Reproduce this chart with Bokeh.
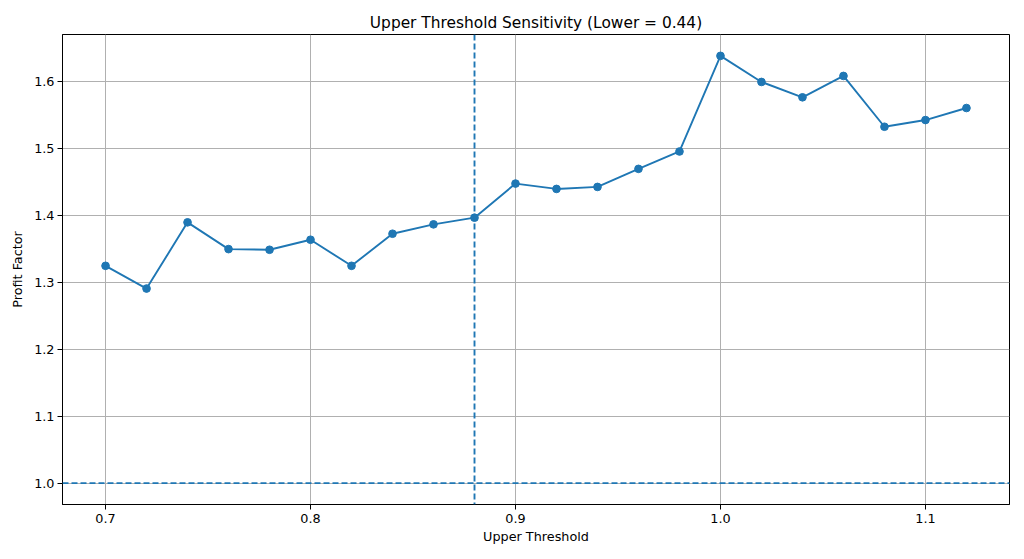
from bokeh.plotting import figure
from bokeh.models import Range1d, FixedTicker, Span, PrintfTickFormatter
from bokeh.embed import file_html
from bokeh.resources import INLINE

upper = [0.70, 0.72, 0.74, 0.76, 0.78, 0.80, 0.82, 0.84, 0.86, 0.88, 0.90,
         0.92, 0.94, 0.96, 0.98, 1.00, 1.02, 1.04, 1.06, 1.08, 1.10, 1.12]
profit = [1.325, 1.291, 1.390, 1.350, 1.349, 1.364, 1.325, 1.373, 1.387, 1.397, 1.448,
          1.440, 1.443, 1.470, 1.496, 1.639, 1.600, 1.577, 1.609, 1.533, 1.543, 1.561]
chosen_upper = 0.88
baseline = 1.0
x_ticks = [0.7, 0.8, 0.9, 1.0, 1.1]
y_ticks = [1.0, 1.1, 1.2, 1.3, 1.4, 1.5, 1.6]

BLUE = "#1f77b4"
FONT = "DejaVu Sans"

xpad = (max(upper) - min(upper)) * 0.05
ylo, yhi = min(min(profit), baseline), max(profit)
ypad = (yhi - ylo) * 0.05

p = figure(
    frame_width=947, frame_height=470,
    min_border_left=62, min_border_right=7, min_border_top=34, min_border_bottom=47,
    x_range=Range1d(min(upper) - xpad, max(upper) + xpad),
    y_range=Range1d(ylo - ypad, yhi + ypad),
    output_backend="svg", toolbar_location=None,
    title="Upper Threshold Sensitivity (Lower = 0.44)",
)
p.title.align = "center"
p.title.text_font = FONT
p.title.text_font_size = "15.4px"
p.title.text_font_style = "normal"
p.title.text_color = "black"
p.title.standoff = 6

p.outline_line_color = "black"
p.outline_line_width = 1
p.outline_line_alpha = 1

for ax in (p.xaxis[0], p.yaxis[0]):
    ax.major_label_text_font = FONT
    ax.major_label_text_font_size = "12.8px"
    ax.major_label_text_color = "black"
    ax.axis_label_text_font = FONT
    ax.axis_label_text_font_size = "12.8px"
    ax.axis_label_text_font_style = "normal"
    ax.axis_label_text_color = "black"
    ax.axis_line_color = "black"
    ax.major_tick_line_color = "black"
    ax.major_tick_in = 0
    ax.major_tick_out = 5
    ax.minor_tick_line_color = None
    ax.formatter = PrintfTickFormatter(format="%.1f")

p.xaxis.ticker = FixedTicker(ticks=x_ticks)
p.yaxis.ticker = FixedTicker(ticks=y_ticks)
p.xaxis.axis_label = "Upper Threshold"
p.yaxis.axis_label = "Profit Factor"
p.xaxis.major_label_standoff = 4
p.xaxis.axis_label_standoff = 3
p.yaxis.major_label_standoff = 3
p.yaxis.axis_label_standoff = 6

p.grid.grid_line_color = "#b0b0b0"
p.grid.grid_line_width = 1

p.line(upper, profit, line_color=BLUE, line_width=1.9)
p.scatter(upper, profit, size=7.7, fill_color=BLUE, line_color=BLUE)

p.add_layout(Span(location=chosen_upper, dimension="height", line_color=BLUE,
                  line_width=1.9, line_dash="6 3"))
p.add_layout(Span(location=baseline, dimension="width", line_color=BLUE,
                  line_width=1.9, line_dash="6 3"))

open("out.html", "w").write(file_html(p, INLINE))
